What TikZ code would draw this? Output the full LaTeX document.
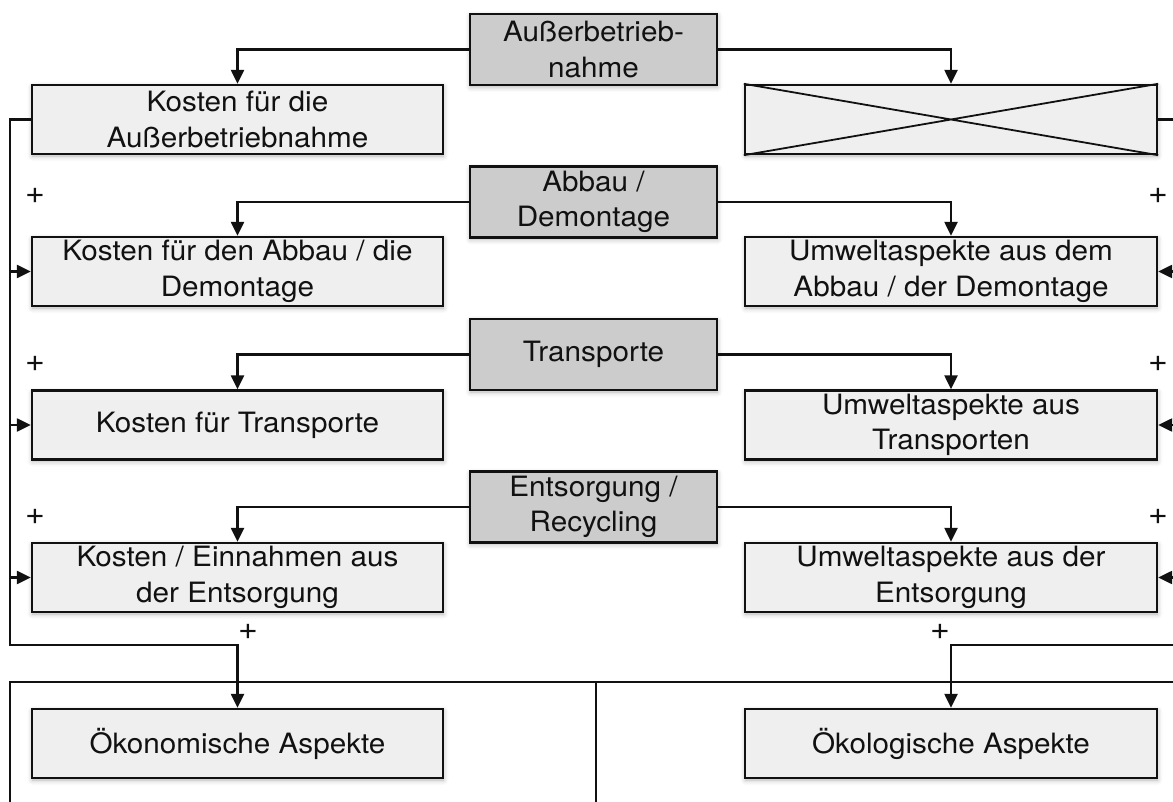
\documentclass[tikz,border=0pt]{standalone}
\usepackage{fontspec}
\setmainfont{TeX Gyre Heros}[FakeStretch=1.06]
\usetikzlibrary{arrows.meta,shadows.blur}
\definecolor{boxfill}{HTML}{EFEFEF}
\definecolor{phasefill}{HTML}{CCCCCC}
\definecolor{ink}{HTML}{111111}
\begin{document}
\begin{tikzpicture}[x=1pt,y=-1pt,
  font=\fontsize{28}{35.5}\selectfont,
  base/.style={draw=ink,line width=2.4pt,inner sep=0pt,align=center,text=ink,
    blur shadow={shadow xshift=0.5pt,shadow yshift=-2pt,shadow blur radius=5pt,shadow opacity=30}},
  phase/.style={base,fill=phasefill,minimum width=247pt,minimum height=71pt},
  item/.style={base,fill=boxfill,minimum width=411pt,minimum height=69pt},
  wire/.style={draw=ink,line width=2.4pt},
  link/.style={wire,-{Triangle[length=14pt,width=13pt]}},
  plus/.style={inner sep=0pt,text=ink,font=\fontsize{32}{32}\selectfont}]
\useasboundingbox (0,0) rectangle (1173,802);
\clip (0,0) rectangle (1173,802);

% lifecycle phases (centre column)
\node[phase] (g1) at (593.5,49.5) {Außerbetrieb-\\nahme};
\node[phase] (g2) at (593.5,202) {Abbau /\\Demontage};
\node[phase] (g3) at (593.5,354.5) {Transporte};
\node[phase] (g4) at (593.5,507) {Entsorgung /\\Recycling};

% cost side
\node[item] (l1) at (237.5,119.5) {Kosten für die\\Außerbetriebnahme};
\node[item] (l2) at (237.5,271.5) {Kosten für den Abbau / die\\Demontage};
\node[item] (l3) at (237.5,425) {Kosten für Transporte};
\node[item] (l4) at (237.5,577.5) {Kosten / Einnahmen aus\\der Entsorgung};
\node[item] (l5) at (237.5,743.5) {Ökonomische Aspekte};

% environmental side
\node[item,minimum width=412pt] (r1) at (951,119.5) {};
\node[item,minimum width=412pt] (r2) at (951,271.5) {Umweltaspekte aus dem\\Abbau / der Demontage};
\node[item,minimum width=412pt] (r3) at (951,425) {Umweltaspekte aus\\Transporten};
\node[item,minimum width=412pt] (r4) at (951,577.5) {Umweltaspekte aus der\\Entsorgung};
\node[item,minimum width=412pt] (r5) at (951,743.5) {Ökologische Aspekte};
\draw[ink,line width=1.8pt] (r1.north west) -- (r1.south east)
                            (r1.south west) -- (r1.north east);

% phase -> cost / environmental boxes
\foreach \g/\l/\r in {g1/l1/r1,g2/l2/r2,g3/l3/r3,g4/l4/r4}{
  \draw[link] (\g.west) -| (\l.north);
  \draw[link] (\g.east) -| (\r.north);
}

% summation buses
\coordinate (lbus) at (10,645);
\coordinate (rbus) at (1185,645);
\draw[link] (l1.west) -| (lbus) -| (l5.north);
\draw[link] (r1.east) -| (rbus) -| (r5.north);
\foreach \n in {2,3,4}{
  \draw[link] (l\n.west -| lbus) -- (l\n.west);
  \draw[link] (r\n.east -| rbus) -- (r\n.east);
}

% plus signs
\node[plus] (pl2) at (35,196) {+};
\node[plus] (pl3) at (35,364) {+};
\node[plus] (pl4) at (35,517) {+};
\node[plus] (pr2) at (1158,196) {+};
\node[plus] (pr3) at (1158,364) {+};
\node[plus] (pr4) at (1158,517) {+};
\node[plus] (pl5) at (248,632) {+};
\node[plus] (pr5) at (940,632) {+};

% result frame
\draw[ink,line width=2.2pt] (1190,682) -- (10,682) -- (10,815);
\draw[ink,line width=2.2pt] (596,682) -- (596,815);
\end{tikzpicture}
\end{document}
